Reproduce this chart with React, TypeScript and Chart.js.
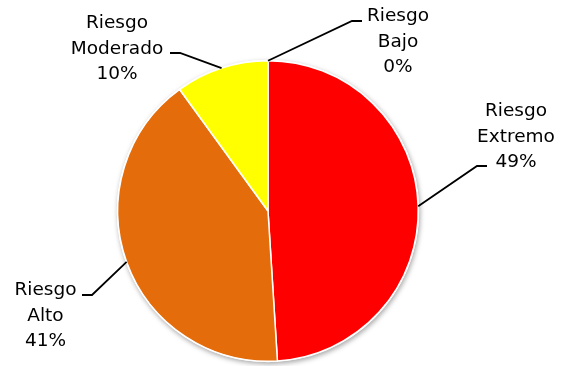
import React, { useEffect, useRef } from "react";
import { Chart, registerables } from "chart.js";

Chart.register(...registerables);

const categories = ["Riesgo Extremo", "Riesgo Alto", "Riesgo Moderado", "Riesgo Bajo"];
const labelLines = [["Riesgo", "Extremo"], ["Riesgo", "Alto"], ["Riesgo", "Moderado"], ["Riesgo", "Bajo"]];
const shares = [49, 41, 10, 0];
const sliceColors = ["#FF0000", "#E46C0A", "#FFFF00", "#9BBB59"];

// Callout placement: text centre x, first baseline y, elbow of the leader, side of the text.
const callouts = [
  { tx: 516, ty: 116, ex: 477, ey: 166, side: 1 },
  { tx: 45.5, ty: 295, ex: 92, ey: 295, side: -1 },
  { tx: 117, ty: 28, ex: 180, ey: 53, side: -1 },
  { tx: 398, ty: 21, ex: 352, ey: 21, side: 1 },
];

const FONT = '18.5px "DejaVu Sans"';
const LINE_GAP = 25.5;

const shadowPlugin = {
  id: "pieShadow",
  beforeDatasetsDraw(chart: any) {
    const meta = chart.getDatasetMeta(0);
    const arc = meta.data[0];
    if (!arc) return;
    const { x, y, outerRadius } = arc.getProps(["x", "y", "outerRadius"], true);
    const ctx = chart.ctx;
    ctx.save();
    ctx.shadowColor = "rgba(0,0,0,0.35)";
    ctx.shadowBlur = 5;
    ctx.shadowOffsetX = 1;
    ctx.shadowOffsetY = 2;
    ctx.fillStyle = "#ffffff";
    ctx.beginPath();
    ctx.arc(x, y, outerRadius + 1, 0, Math.PI * 2);
    ctx.fill();
    ctx.restore();
  },
};

const calloutPlugin = {
  id: "callouts",
  afterDatasetsDraw(chart: any) {
    const meta = chart.getDatasetMeta(0);
    const ctx = chart.ctx;
    ctx.save();
    meta.data.forEach((arc: any, i: number) => {
      const { x, y, startAngle, endAngle, outerRadius } = arc.getProps(
        ["x", "y", "startAngle", "endAngle", "outerRadius"],
        true
      );
      const mid = (startAngle + endAngle) / 2;
      const ax = x + Math.cos(mid) * outerRadius;
      const ay = y + Math.sin(mid) * outerRadius;
      const c = callouts[i];
      ctx.strokeStyle = "#000000";
      ctx.lineWidth = 1.8;
      ctx.beginPath();
      ctx.moveTo(ax, ay);
      ctx.lineTo(c.ex, c.ey);
      ctx.lineTo(c.ex + c.side * 10, c.ey);
      ctx.stroke();

      const lines = [...labelLines[i], `${shares[i]}%`];
      ctx.font = FONT;
      ctx.fillStyle = "#000000";
      ctx.textAlign = "center";
      ctx.textBaseline = "alphabetic";
      lines.forEach((t, k) => ctx.fillText(t, c.tx, c.ty + k * LINE_GAP));
    });
    ctx.restore();
  },
};

export default function App() {
  const ref = useRef<HTMLCanvasElement | null>(null);

  useEffect(() => {
    if (!ref.current) return;
    const chart = new Chart(ref.current, {
      type: "pie",
      data: {
        labels: categories,
        datasets: [
          {
            data: shares,
            backgroundColor: sliceColors,
            borderColor: "#ffffff",
            borderWidth: 1.5,
          },
        ],
      },
      options: {
        responsive: false,
        animation: false,
        layout: { padding: { top: 60, bottom: 4, left: 117, right: 145 } },
        plugins: {
          legend: { display: false },
          tooltip: { enabled: false },
        },
      },
      plugins: [shadowPlugin, calloutPlugin],
    });
    return () => chart.destroy();
  }, []);

  return (
    <div style={{ position: "fixed", left: 0, top: 0, width: 564, height: 366, background: "#ffffff" }}>
      <canvas ref={ref} width={564} height={366} />
    </div>
  );
}
